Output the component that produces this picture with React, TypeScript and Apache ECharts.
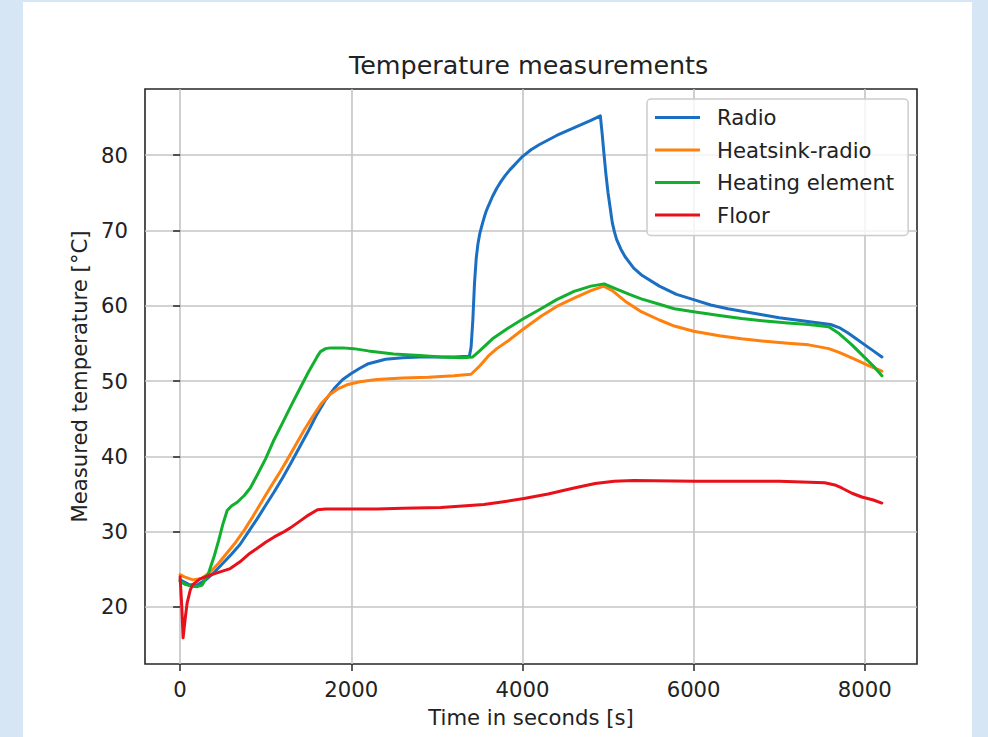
import React, { useEffect, useRef } from "react";
import * as echarts from "echarts";

const chartTitle = "Temperature measurements";
const xAxisName = "Time in seconds [s]";
const yAxisName = "Measured temperature [°C]";
const seriesNames = ["Radio", "Heatsink-radio", "Heating element", "Floor"];
const seriesColors = ["#1a6fc2", "#ff800e", "#12b02e", "#e8101a"];

const xTicks = [0, 2000, 4000, 6000, 8000];
const yTicks = [20, 30, 40, 50, 60, 70, 80];

const radioT = [0, 100, 200, 300, 400, 500, 600, 700, 800, 900, 1000, 1100, 1200, 1300, 1400, 1500, 1600, 1700, 1800, 1900, 2000, 2100, 2200, 2400, 2600, 2800, 3000, 3200, 3380, 3400, 3420, 3440, 3460, 3480, 3500, 3525, 3550, 3575, 3600, 3650, 3700, 3750, 3800, 3850, 3900, 3950, 4000, 4100, 4200, 4300, 4400, 4500, 4600, 4700, 4800, 4910, 4930, 4950, 4975, 5000, 5025, 5050, 5075, 5100, 5150, 5200, 5300, 5400, 5600, 5800, 6000, 6200, 6400, 6600, 6800, 7000, 7200, 7400, 7600, 7700, 7800, 7900, 8000, 8100, 8200];
const radioV = [23.6, 23.0, 22.9, 23.6, 24.6, 25.8, 27.0, 28.3, 30.0, 31.7, 33.5, 35.3, 37.2, 39.2, 41.3, 43.4, 45.6, 47.5, 49.0, 50.2, 51.0, 51.7, 52.3, 52.9, 53.1, 53.2, 53.2, 53.2, 53.3, 54.5, 58.0, 63.0, 66.3, 68.2, 69.5, 70.6, 71.6, 72.5, 73.2, 74.5, 75.6, 76.5, 77.3, 78.0, 78.6, 79.2, 79.8, 80.7, 81.4, 82.0, 82.6, 83.1, 83.6, 84.1, 84.6, 85.2, 83.0, 80.5, 77.5, 75.0, 73.0, 71.0, 69.8, 68.8, 67.5, 66.5, 65.0, 64.0, 62.6, 61.5, 60.8, 60.1, 59.6, 59.2, 58.8, 58.4, 58.1, 57.8, 57.5, 57.1, 56.4, 55.6, 54.8, 54.0, 53.2];

const heatsinkT = [0, 50, 150, 250, 350, 450, 550, 650, 750, 850, 950, 1050, 1150, 1250, 1350, 1450, 1550, 1650, 1750, 1850, 1950, 2100, 2300, 2600, 2900, 3200, 3400, 3500, 3600, 3700, 3830, 4000, 4217, 4400, 4603, 4800, 4950, 5050, 5200, 5388, 5600, 5775, 6000, 6300, 6559, 6800, 7100, 7344, 7578, 7700, 7900, 8050, 8200];
const heatsinkV = [24.3, 24.0, 23.6, 23.8, 24.6, 25.8, 27.2, 28.6, 30.2, 32.0, 33.9, 35.8, 37.6, 39.5, 41.5, 43.5, 45.3, 47.0, 48.2, 49.0, 49.5, 49.9, 50.2, 50.4, 50.5, 50.7, 50.9, 52.0, 53.3, 54.3, 55.3, 56.8, 58.6, 59.9, 61.0, 62.0, 62.6, 62.0, 60.6, 59.2, 58.1, 57.3, 56.6, 56.0, 55.6, 55.3, 55.0, 54.8, 54.3, 53.8, 52.8, 52.0, 51.3];

const heatingT = [0, 60, 117, 200, 258, 330, 400, 450, 500, 550, 600, 668, 750, 820, 900, 1000, 1089, 1200, 1300, 1400, 1500, 1600, 1640, 1700, 1757, 1900, 2026, 2200, 2495, 2800, 3045, 3300, 3420, 3500, 3650, 3830, 4000, 4217, 4400, 4603, 4800, 4955, 5100, 5250, 5388, 5600, 5775, 6000, 6300, 6559, 6800, 7100, 7344, 7578, 7700, 7850, 8000, 8100, 8200];
const heatingV = [23.4, 23.0, 22.8, 22.7, 22.9, 24.4, 26.8, 28.8, 31.0, 32.8, 33.4, 33.9, 34.8, 35.8, 37.5, 39.7, 42.0, 44.5, 46.8, 49.0, 51.2, 53.2, 53.9, 54.3, 54.4, 54.4, 54.3, 54.0, 53.6, 53.4, 53.2, 53.1, 53.2, 54.0, 55.6, 57.0, 58.2, 59.6, 60.8, 61.9, 62.6, 62.9, 62.2, 61.5, 60.9, 60.2, 59.6, 59.2, 58.7, 58.3, 58.0, 57.7, 57.5, 57.2, 56.3, 54.8, 53.1, 52.0, 50.7];

const floorT = [0, 20, 35, 60, 82, 120, 152, 230, 316, 450, 586, 700, 800, 902, 1000, 1100, 1200, 1288, 1400, 1500, 1605, 1700, 2000, 2300, 2600, 3045, 3300, 3549, 3800, 4018, 4300, 4603, 4850, 5072, 5300, 6009, 6500, 7000, 7532, 7650, 7731, 7850, 7965, 8100, 8199];
const floorV = [24.0, 20.0, 15.9, 18.5, 20.5, 22.3, 23.0, 23.7, 24.1, 24.6, 25.1, 26.0, 27.0, 27.8, 28.6, 29.3, 29.9, 30.5, 31.4, 32.2, 32.9, 33.0, 33.0, 33.0, 33.1, 33.2, 33.4, 33.6, 34.0, 34.4, 35.0, 35.8, 36.4, 36.7, 36.8, 36.7, 36.7, 36.7, 36.5, 36.2, 35.8, 35.1, 34.6, 34.2, 33.8];

const FONT = "DejaVu Sans";

export default function App() {
  const ref = useRef<HTMLDivElement>(null);

  useEffect(() => {
    if (!ref.current) return;
    const chart = echarts.init(ref.current, undefined, { renderer: "svg" });
    const pairs = (ts: number[], vs: number[]) => ts.map((t, i) => [t, vs[i]]);
    const allData = [
      pairs(radioT, radioV),
      pairs(heatsinkT, heatsinkV),
      pairs(heatingT, heatingV),
      pairs(floorT, floorV),
    ];
    chart.setOption({
      animation: false,
      backgroundColor: "transparent",
      title: {
        text: chartTitle,
        left: 349,
        top: 52,
        padding: 0,
        textStyle: { fontFamily: FONT, fontSize: 25.4, fontWeight: "normal", color: "#222", lineHeight: 25.4 },
      },
      legend: {
        orient: "vertical",
        left: 647,
        top: 99,
        padding: [8, 14, 10, 8],
        itemWidth: 45,
        itemHeight: 3,
        itemGap: 11.5,
        icon: "rect",
        backgroundColor: "rgba(255,255,255,0.8)",
        borderColor: "#cccccc",
        borderWidth: 1.5,
        borderRadius: 4,
        data: seriesNames,
        textStyle: { fontFamily: FONT, fontSize: 21.2, color: "#222", lineHeight: 21, padding: [0, 0, 0, 12] },
      },
      grid: {
        left: 145,
        right: 71,
        top: 89,
        bottom: 73,
        show: true,
        borderColor: "#262626",
        borderWidth: 1.6,
        backgroundColor: "transparent",
      },
      xAxis: {
        type: "value",
        min: -410,
        max: 8610,
        name: xAxisName,
        nameLocation: "middle",
        nameGap: 43,
        nameTextStyle: { fontFamily: FONT, fontSize: 21.2, color: "#222" },
        axisLine: { show: false },
        axisTick: { show: true, length: 7, customValues: xTicks, lineStyle: { color: "#262626", width: 1.5 } },
        axisLabel: {
          customValues: xTicks,
          margin: 15,
          fontFamily: FONT,
          fontSize: 21.2,
          color: "#222",
          formatter: (v: number) => String(v),
        },
        splitLine: { show: true, lineStyle: { color: "#c4c4c4", width: 1.6 } },
      },
      yAxis: {
        type: "value",
        min: 12.43,
        max: 88.77,
        name: yAxisName,
        nameLocation: "middle",
        nameGap: 55,
        nameTextStyle: { fontFamily: FONT, fontSize: 21.2, color: "#222" },
        axisLine: { show: false },
        axisTick: { show: true, length: 7, customValues: yTicks, lineStyle: { color: "#262626", width: 1.5 } },
        axisLabel: {
          customValues: yTicks,
          margin: 17,
          fontFamily: FONT,
          fontSize: 21.2,
          color: "#222",
          formatter: (v: number) => String(v),
        },
        splitLine: { show: true, lineStyle: { color: "#c4c4c4", width: 1.6 } },
      },
      series: seriesNames.map((name, i) => ({
        name,
        type: "line",
        data: allData[i],
        showSymbol: false,
        symbol: "none",
        color: seriesColors[i],
        lineStyle: { width: 3, color: seriesColors[i], join: "round", cap: "round" },
        z: 3 + i,
      })),
    });
    return () => chart.dispose();
  }, []);

  return (
    <div style={{ position: "fixed", left: 0, top: 0, width: 988, height: 737, background: "#d6e6f4" }}>
      <div style={{ position: "absolute", left: 23, top: 2, width: 949, height: 735, background: "#ffffff" }} />
      <div ref={ref} style={{ position: "absolute", left: 0, top: 0, width: 988, height: 737 }} />
    </div>
  );
}
